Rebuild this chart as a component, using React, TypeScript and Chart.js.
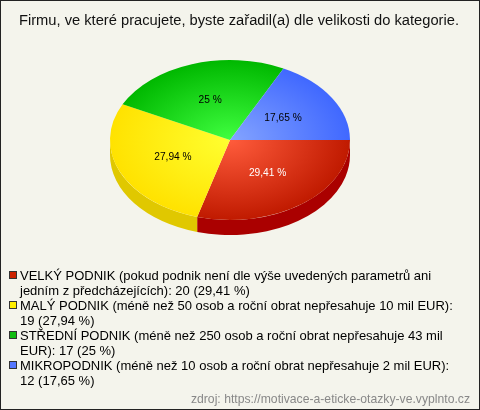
import React, { useEffect, useRef } from "react";
import { Chart, registerables } from "chart.js";

Chart.register(...registerables);

const title = "Firmu, ve které pracujete, byste zařadil(a) dle velikosti do kategorie.";
const categories = [
  "VELKÝ PODNIK (pokud podnik není dle výše uvedených parametrů ani jedním z předcházejících)",
  "MALÝ PODNIK (méně než 50 osob a roční obrat nepřesahuje 10 mil EUR)",
  "STŘEDNÍ PODNIK (méně než 250 osob a roční obrat nepřesahuje 43 mil EUR)",
  "MIKROPODNIK (méně než 10 osob a roční obrat nepřesahuje 2 mil EUR)",
];
const counts = [20, 19, 17, 12];
const darkColors = ["#c01a00", "#ffe200", "#00b800", "#4068ff"];
const lightColors = ["#ff5c3c", "#ffff30", "#40ff40", "#84a4ff"];
const sideColors = ["#aa0000", "#e0c800", "#008800", "#2244cc"];
const swatchColors = ["#cc2200", "#ffee00", "#11bb11", "#5577ff"];
const labelColors = ["#ffffff", "#000000", "#000000", "#000000"];
const source = "zdroj: https://motivace-a-eticke-otazky-ve.vyplnto.cz";

const total = counts.reduce((a, b) => a + b, 0);
const pctText = (v: number) => Number(((v / total) * 100).toFixed(2)).toString().replace(".", ",") + " %";

const K = 80 / 120;
const DEPTH = 15;
const FONT = "'Liberation Sans', Arial, sans-serif";

const pie3d = {
  id: "pie3d",
  beforeDatasetsDraw(chart: any) {
    const meta = chart.getDatasetMeta(0);
    const ctx = chart.ctx as CanvasRenderingContext2D;
    const arcs = meta.data as any[];
    if (!arcs.length) return;
    const cx = arcs[0].x, cy = arcs[0].y, R = arcs[0].outerRadius;
    const ry = R * K;
    const TWO = Math.PI * 2;
    arcs.forEach((arc, i) => {
      let s = arc.startAngle % TWO;
      if (s < 0) s += TWO;
      const e = s + (arc.endAngle - arc.startAngle);
      for (const off of [0, TWO]) {
        const a1 = Math.max(s, off);
        const a2 = Math.min(e, off + Math.PI);
        if (a2 > a1) {
          ctx.beginPath();
          ctx.ellipse(cx, cy, R, ry, 0, a1, a2);
          ctx.ellipse(cx, cy + DEPTH, R, ry, 0, a2, a1, true);
          ctx.closePath();
          ctx.fillStyle = sideColors[i];
          ctx.fill();
        }
      }
    });
    ctx.save();
    ctx.translate(0, cy);
    ctx.scale(1, K);
    ctx.translate(0, -cy);
  },
  afterDatasetsDraw(chart: any) {
    const ctx = chart.ctx as CanvasRenderingContext2D;
    ctx.restore();
    const meta = chart.getDatasetMeta(0);
    const arcs = meta.data as any[];
    ctx.save();
    ctx.font = "10.2px " + FONT;
    ctx.textAlign = "center";
    ctx.textBaseline = "middle";
    arcs.forEach((arc, i) => {
      const mid = (arc.startAngle + arc.endAngle) / 2;
      const r = arc.outerRadius * 0.52;
      const x = arc.x + Math.cos(mid) * r;
      const y = arc.y + Math.sin(mid) * r * K;
      ctx.fillStyle = labelColors[i];
      ctx.fillText(pctText(counts[i]), x, y);
    });
    ctx.restore();
  },
};

export default function App() {
  const ref = useRef<HTMLCanvasElement | null>(null);
  useEffect(() => {
    if (!ref.current) return;
    const chart = new Chart(ref.current, {
      type: "pie",
      data: {
        labels: categories,
        datasets: [
          {
            data: counts,
            borderWidth: 0,
            clip: false as any,
            backgroundColor: (c: any) => {
              const i = c.dataIndex ?? 0;
              const a = c.chart.chartArea;
              if (!a) return darkColors[i];
              const cx = (a.left + a.right) / 2;
              const cy = (a.top + a.bottom) / 2;
              const R = Math.min(a.right - a.left, a.bottom - a.top) / 2;
              const g = c.chart.ctx.createRadialGradient(cx, cy, 0, cx, cy, R);
              g.addColorStop(0, lightColors[i]);
              g.addColorStop(1, darkColors[i]);
              return g;
            },
          },
        ],
      },
      options: {
        responsive: false,
        animation: false,
        rotation: 90,
        layout: { padding: { left: 110, right: 130, top: 20, bottom: 150 } },
        plugins: {
          legend: { display: false },
          tooltip: { enabled: false },
          title: { display: false },
        },
      },
      plugins: [pie3d],
    });
    return () => chart.destroy();
  }, []);

  return (
    <div
      style={{
        position: "fixed",
        left: 0,
        top: 0,
        width: 480,
        height: 410,
        boxSizing: "border-box",
        border: "1px solid #222",
        background: "#f4f4ec",
        fontFamily: FONT,
        overflow: "hidden",
      }}
    >
      <canvas
        ref={ref}
        width={480}
        height={410}
        style={{ position: "absolute", left: -1, top: -1, display: "block" }}
      />
      <div
        style={{
          position: "absolute",
          left: 0,
          top: 11,
          width: 476,
          textAlign: "center",
          fontSize: 14.7,
          lineHeight: "17px",
          color: "#111",
          whiteSpace: "nowrap",
        }}
      >
        {title}
      </div>
      <div style={{ position: "absolute", left: 7, top: 267, width: 450 }}>
        {categories.map((c, i) => (
          <div key={i} style={{ position: "relative", paddingLeft: 12, fontSize: 13, lineHeight: "15px", color: "#000" }}>
            <span
              style={{
                position: "absolute",
                left: 1,
                top: 3,
                width: 6,
                height: 6,
                border: "1px solid #333",
                background: swatchColors[i],
              }}
            />
            {c}: {counts[i]} ({pctText(counts[i])})
          </div>
        ))}
      </div>
      <div
        style={{
          position: "absolute",
          right: 9,
          top: 390,
          fontSize: 12.2,
          lineHeight: "16px",
          color: "#888",
        }}
      >
        {source}
      </div>
    </div>
  );
}
